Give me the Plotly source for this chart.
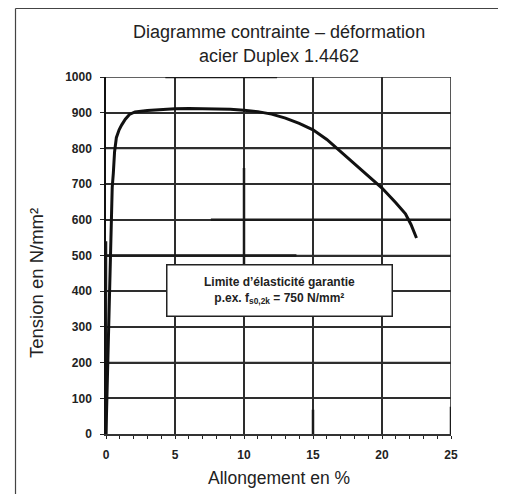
import plotly.graph_objects as go

# Data
strain_pct = [0, 0.1, 0.2, 0.28, 0.35, 0.45, 0.53, 0.62, 0.75, 0.95, 1.14, 1.4, 1.7, 2.1,
              3, 4, 5, 6, 7, 8, 9, 10, 11, 12, 13, 14, 15, 16, 16.8, 17.5, 18.2, 19, 20, 21,
              21.7, 22.1, 22.5]
stress = [0, 150, 350, 500, 600, 690, 730, 790, 830, 852, 866, 882, 895, 902,
          906, 909, 911, 912, 912, 911, 910, 907, 903, 896, 885, 870, 852, 825, 798,
          775, 750, 722, 689, 648, 617, 587, 549]

x_ticks = [0, 5, 10, 15, 20, 25]
y_ticks = [0, 100, 200, 300, 400, 500, 600, 700, 800, 900, 1000]

# Emphasised gridline pieces visible in the scanned original: (x0, y0, x1, y1)
seg_x0 = [0, 7.6, 4.3, 10, 15, 25, 0]
seg_y0 = [500, 600, 1000, 470, 0, 0, 0]
seg_x1 = [13.8, 25, 12.4, 10, 15, 25, 0]
seg_y1 = [500, 600, 1000, 745, 68, 76, 540]

title_line1 = "Diagramme contrainte – déformation"
title_line2 = "acier Duplex 1.4462"
x_title = "Allongement en %"
y_title = "Tension en N/mm²"
box_text = "Limite d’élasticité garantie<br>p.ex. f<sub>s0,2k</sub> = 750 N/mm²"

fig = go.Figure()

grid = "#2e2e2e"
x_min, x_max = x_ticks[0], x_ticks[-1]
y_min, y_max = y_ticks[0], y_ticks[-1]

for xv in x_ticks[1:]:
    fig.add_trace(go.Scatter(x=[xv, xv], y=[y_min, y_max], mode="lines",
                             line=dict(color=grid, width=1.6),
                             hoverinfo="skip", showlegend=False))
for yv in y_ticks[1:]:
    fig.add_trace(go.Scatter(x=[x_min, x_max], y=[yv, yv], mode="lines",
                             line=dict(color=grid, width=1.6),
                             hoverinfo="skip", showlegend=False))

for a, b, c, d in zip(seg_x0, seg_y0, seg_x1, seg_y1):
    fig.add_trace(go.Scatter(x=[a, c], y=[b, d], mode="lines",
                             line=dict(color="#1a1a1a", width=2.5),
                             hoverinfo="skip", showlegend=False))

fig.add_trace(go.Scatter(x=strain_pct, y=stress, mode="lines",
                         line=dict(color="#111111", width=3),
                         showlegend=False))

tickfont = dict(family="Liberation Sans, Arial, sans-serif", size=12, color="#222", weight="bold")
fig.update_layout(
    width=498, height=486,
    margin=dict(l=98, r=55, t=69, b=60),
    paper_bgcolor="white", plot_bgcolor="white",
    font=dict(family="Liberation Sans, Arial, sans-serif", color="#222"),
    xaxis=dict(range=[0, 25], tickvals=x_ticks, showgrid=True, gridcolor=grid, gridwidth=1.5,
               zeroline=False, showline=True, linecolor="#333", linewidth=1.5,
               ticks="outside", ticklen=3, tickcolor="#222",
               minor=dict(dtick=1, ticks="outside", ticklen=3, tickcolor="#222", showgrid=False),
               ticklabelstandoff=6, tickfont=tickfont),
    yaxis=dict(range=[0, 1000], tickvals=y_ticks, showgrid=True, gridcolor=grid, gridwidth=1.5,
               zeroline=False, showline=True, linecolor="#111", linewidth=1.5,
               ticks="outside", ticklen=4, tickcolor="#222",
               ticklabelstandoff=6, tickfont=tickfont),
)

# outer frame (top and left edges visible)
fig.add_shape(type="line", xref="paper", yref="paper", x0=-0.2623, x1=1.2, y0=1.192, y1=1.192,
              line=dict(color="#444", width=1.2))
fig.add_shape(type="line", xref="paper", yref="paper", x0=-0.2623, x1=-0.2623, y0=1.192, y1=-0.2,
              line=dict(color="#444", width=1.2))

fig.add_annotation(text=title_line1, xref="paper", yref="paper", x=0.5, y=(434 - 31.5) / 357,
                   xanchor="center", yanchor="middle", showarrow=False,
                   font=dict(size=18, color="#222"))
fig.add_annotation(text=title_line2, xref="paper", yref="paper", x=0.5, y=(434 - 55.5) / 357,
                   xanchor="center", yanchor="middle", showarrow=False,
                   font=dict(size=18, color="#222"))
fig.add_annotation(text=x_title, xref="paper", yref="paper", x=0.5, y=-0.123,
                   xanchor="center", yanchor="middle", showarrow=False,
                   font=dict(size=17.5, color="#222"))
fig.add_annotation(text=y_title, xref="paper", yref="paper", x=(37 - 106) / 345, y=0.423,
                   xanchor="center", yanchor="middle", showarrow=False, textangle=-90,
                   font=dict(size=18.5, color="#222"))
fig.add_annotation(text=box_text, xref="x", yref="y", x=12.6, y=401,
                   xanchor="center", yanchor="middle", showarrow=False,
                   width=220, height=46, borderpad=2, bgcolor="white",
                   bordercolor="#222", borderwidth=1.5,
                   font=dict(size=12, color="#222", weight="bold"))

fig.write_html("out.html")
